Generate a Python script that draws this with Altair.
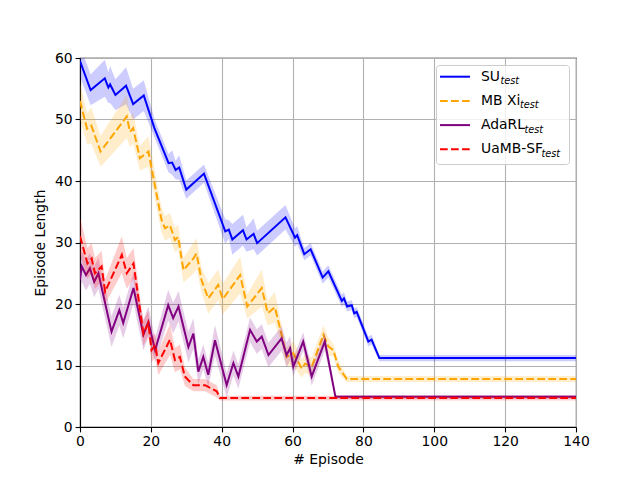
import altair as alt
import pandas as pd

# ---- data ----
su_x = [0,3,7,8,8.5,10,13,15,18,21,25,26,27,28,30,35,41,42,43,46,47,49,50,58,60.7,61.3,63.3,65.1,68.5,70.1,73.9,74.5,75.4,76.7,77.4,78.1,81.4,82.3,84.5,140]
su_y = [59.5,54.8,56.7,55.2,55.7,54,55.5,52.5,53.9,48.6,42.9,43,41.8,42.2,38.6,41.2,31.8,32.1,30.5,32,30.5,31.4,29.9,34.1,30.8,31.2,28.1,28.9,24.3,25.3,20.5,20.9,19.6,19.8,18.5,18.7,13.9,14.2,11.2,11.2]
su_sd = [2.5,2.5,3,2.5,3,2.5,3,2.5,2.5,1.5,1.5,2,1.5,2,1.5,1.5,2,1.5,2.5,2.5,2,2.5,2,2,1.5,1.5,1,1,1,1,1,1,0.8,0.8,0.8,0.8,0.8,0.8,0.5,0.5]

mb_x = [0,2,3.2,5.8,13.2,14.1,15,16.9,19.3,23,24,25.4,26.8,27.7,29.2,32,32.9,34.3,36.2,39,40.3,45.2,47.2,51.3,53,55,56.9,58.3,60.2,62.6,63.5,65.4,68.7,70.1,71.5,72.9,75.3,140]
mb_y = [53,48.5,49,44.8,50.5,48,48.6,43.7,44.8,33.7,32.3,32.8,30.4,30.9,25.5,27.4,28.2,23.9,20.9,23.1,20.8,24.7,19.6,22.6,18.5,19.5,15,11.4,12,9.5,10.3,9.8,15,13.1,12.5,9.8,7.8,7.8]
mb_sd = [3,2.5,3,2.5,3.5,2.5,2.5,2,2.5,2,2,2,2,2,2,2.5,2.5,2,2.5,2.5,2.5,3,2,3,2,2.5,1.5,1.5,2,1.5,1.5,1.5,1.5,1.5,1,1,0.5,0.5]

ad_x = [0,0.5,1.7,2.8,4,5.2,8.9,11.1,12.2,15.1,17.9,19.3,21.2,24.9,26.3,27.8,30.6,32,33.4,34.8,36.2,38.1,41.4,43.3,44.7,48,49.9,51.3,53.2,56.9,58.3,59.3,60.2,63,65.4,69.1,72.1,140]
ad_y = [24,26.1,24.7,25.8,23.6,25,15.5,19,16.9,22.6,15,17.1,12.5,19.8,17.7,19.6,13,15.2,9,11.4,8.5,14.1,6.8,10.4,8.2,15.8,13.9,14.7,11.7,14.4,11.7,12.8,9.8,13.9,8.2,13.9,4.9,4.9]
ad_sd = [2.5,2.5,2.5,2.5,2.5,2.5,2.5,2.5,2.5,2.5,2.5,2.5,2,2.5,2.5,2.5,2.5,2.5,2,2,2,2.5,2,2,2,2,2,2,2,2,2,2,1.5,1.5,1.5,1.5,0.3,0.3]

ua_x = [0,0.5,2.1,3.3,4.2,6.1,7.1,11.8,13.2,15.1,17.9,19.3,20.2,21.2,22.1,25.4,26.8,28.2,29.6,32,35.3,38.6,39.5,140]
ua_y = [31,30,26.6,27.4,25,26.1,22,28,25,26.6,15.2,16.9,12.5,13.3,10.4,14.2,10.9,11.4,8.2,6.8,6.8,5.8,4.7,4.7]
ua_sd = [3,3,2.5,2.5,2.5,2.5,2,3,2.5,2.5,2,2,2,2,2,2.5,2,2,1.5,1,1,1,0.4,0.4]

names = ["SU", "MB Xi", "AdaRL", "UaMB-SF"]
colors = ["blue", "orange", "purple", "red"]
dashed = [False, True, False, True]
series = [(su_x, su_y, su_sd), (mb_x, mb_y, mb_sd), (ad_x, ad_y, ad_sd), (ua_x, ua_y, ua_sd)]

FONT = "DejaVu Sans"
W, H = 496, 369

xs = alt.Scale(domain=[0, 140], nice=False)
ys = alt.Scale(domain=[0, 60], nice=False)

layers = []
for i, (sx, sy, sd) in enumerate(series):
    df = pd.DataFrame({
        "x": sx, "y": sy,
        "lo": [a - b for a, b in zip(sy, sd)],
        "hi": [a + b for a, b in zip(sy, sd)],
    })
    base = alt.Chart(df)
    band = base.mark_area(color=colors[i], opacity=0.2, clip=True).encode(
        x=alt.X("x:Q", scale=xs),
        y=alt.Y("lo:Q", scale=ys),
        y2="hi:Q",
    )
    lk = dict(color=colors[i], strokeWidth=2, clip=True)
    if dashed[i]:
        lk["strokeDash"] = [7.7, 3.3]
    line = base.mark_line(**lk).encode(
        x=alt.X("x:Q", scale=xs),
        y=alt.Y("y:Q", scale=ys),
    )
    layers += [band, line]

# axes layer (drawn once)
axes = alt.Chart(pd.DataFrame({"x": [0], "y": [0]})).mark_point(opacity=0).encode(
    x=alt.X("x:Q", scale=xs, title="# Episode",
            axis=alt.Axis(values=[0, 20, 40, 60, 80, 100, 120, 140])),
    y=alt.Y("y:Q", scale=ys, title="Episode Length",
            axis=alt.Axis(values=[0, 10, 20, 30, 40, 50, 60])),
)
layers.insert(0, axes)

# custom legend (matplotlib style with subscripts)
one = alt.Chart(pd.DataFrame({"a": [0]}))
leg = [one.mark_rect(fill="white", fillOpacity=0.8, stroke="#cccccc", strokeWidth=1,
                     cornerRadius=3).encode(
    x=alt.value(356.5), x2=alt.value(489.5), y=alt.value(7.5), y2=alt.value(106.5))]
row_y = [18.7, 42.9, 67.1, 91.3]
sub_x = [420.5, 440, 444.5, 461.5]
for i in range(4):
    rk = dict(color=colors[i], strokeWidth=2)
    if dashed[i]:
        rk["strokeDash"] = [7.7, 3.3]
    leg.append(one.mark_rule(**rk).encode(
        x=alt.value(360), x2=alt.value(390), y=alt.value(row_y[i])))
    leg.append(one.mark_text(align="left", baseline="middle", font=FONT, fontSize=13.9,
                             color="black").encode(
        x=alt.value(401), y=alt.value(row_y[i]), text=alt.value(names[i])))
    leg.append(one.mark_text(align="left", baseline="middle", font=FONT, fontSize=9.7,
                             fontStyle="italic", color="black").encode(
        x=alt.value(sub_x[i]), y=alt.value(row_y[i] + 4.5), text=alt.value("test")))

chart = alt.layer(*(layers + leg)).properties(
    width=W, height=H,
    autosize=alt.AutoSizeParams(type="none"),
    padding={"left": 72, "top": 50, "right": 56, "bottom": 45},
).configure_view(
    stroke="black", strokeWidth=1.1
).configure_axis(
    labelFont=FONT, titleFont=FONT, labelFontSize=13.9, titleFontSize=13.9,
    titleFontWeight="normal", labelColor="black", titleColor="black",
    domainColor="black", domainWidth=1.1, tickColor="black", tickWidth=1.1, tickSize=4.9,
    labelPadding=3, grid=True, gridColor="#b0b0b0", gridWidth=1.1, titlePadding=4,
).configure_axisX(labelFlush=False).configure_axisY(labelFlush=False, titlePadding=7)

chart.save("out.html", embed_options={"renderer": "svg", "actions": False})
